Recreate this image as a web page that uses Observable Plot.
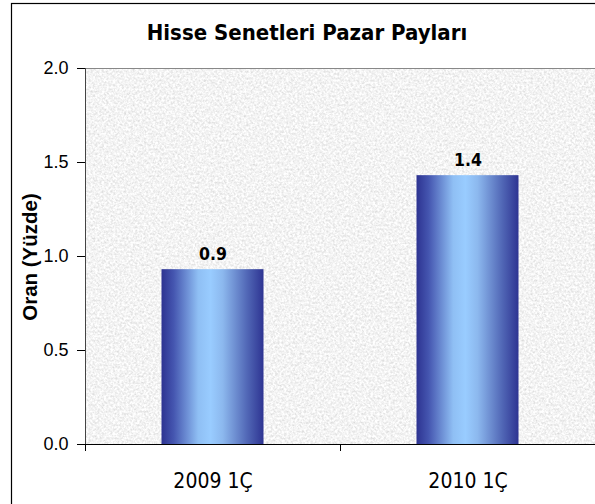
<!DOCTYPE html>
<html><head><meta charset="utf-8">
<script src="https://cdn.jsdelivr.net/npm/d3@7"></script>
<script src="https://cdn.jsdelivr.net/npm/@observablehq/plot@0.6"></script>
<style>body{margin:0;background:#fff}svg{display:block}</style>
</head><body><div id="chart"></div>
<script>
const categories = ["2009 1Ç", "2010 1Ç"];
const values = [0.93, 1.43];
const valueLabels = ["0.9", "1.4"];
const yTicks = [0, 0.5, 1.0, 1.5, 2.0];
const titleText = "Hisse Senetleri Pazar Payları";
const yLabelText = "Oran (Yüzde)";

const data = categories.map((c, i) => ({c, i, v: values[i], label: valueLabels[i]}));

function background(index, scales, values, dim) {
  const g = d3.create("svg:g");
  const defs = g.append("defs");
  const grad = defs.append("linearGradient").attr("id", "barGrad").attr("x1", 0).attr("x2", 1).attr("y1", 0).attr("y2", 0);
  [[0, "#2d3391"], [0.12, "#4556b0"], [0.36, "#8fbff4"], [0.48, "#99ccff"], [0.6, "#8cb8ee"], [0.84, "#5167b6"], [1, "#2e3492"]]
    .forEach(([o, c]) => grad.append("stop").attr("offset", o).attr("stop-color", c));
  const x0 = dim.marginLeft, y0 = dim.marginTop;
  const w = dim.width - dim.marginLeft - dim.marginRight + 20, h = dim.height - dim.marginTop - dim.marginBottom;
  const f = defs.append("filter").attr("id", "granite").attr("filterUnits", "userSpaceOnUse")
    .attr("x", x0).attr("y", y0).attr("width", w).attr("height", h);
  f.append("feTurbulence").attr("type", "fractalNoise").attr("baseFrequency", 0.45).attr("numOctaves", 4).attr("seed", 7).attr("result", "n");
  f.append("feColorMatrix").attr("in", "n").attr("type", "matrix")
    .attr("values", "0.5 0 0 0 0.65  0.5 0 0 0 0.65  0.5 0 0 0 0.65  0 0 0 0 1");
  g.append("rect").attr("x", x0).attr("y", y0).attr("width", w).attr("height", h).attr("fill", "#e6e6e6").attr("filter", "url(#granite)");
  g.append("rect").attr("x", 11.5).attr("y", 3.5).attr("width", 700).attr("height", 700).attr("fill", "none").attr("stroke", "#000").attr("stroke-width", 1.2);
  return g.node();
}

const chart = Plot.plot({
  width: 595,
  height: 504,
  marginLeft: 85,
  marginRight: 0,
  marginTop: 68,
  marginBottom: 60,
  x: {domain: [0, 2]},
  y: {domain: [0, 2]},
  marks: [
    background,
    Plot.ruleY([2], {stroke: "#888", strokeWidth: 1}),
    Plot.rectY(data, {x1: d => d.i + 0.3, x2: d => d.i + 0.7, y: "v", fill: "url(#barGrad)"}),
    Plot.ruleX([0], {stroke: "#444", strokeWidth: 1}),
    Plot.ruleY([0], {stroke: "#000", strokeWidth: 1.2}),
    Plot.axisY({ticks: yTicks, tickFormat: d3.format(".1f"), tickSize: 8, tickPadding: 9, fontSize: 18, fontFamily: "Liberation Sans, Arial, sans-serif", label: null, color: "#000"}),
    Plot.axisX({ticks: [0, 1, 2], tickFormat: () => "", tickSize: 7, label: null}),
    Plot.text(data, {x: d => d.i + 0.5, y: 0, text: "c", dy: 36.5, fontSize: 21, fontFamily: "DejaVu Sans Condensed, DejaVu Sans, sans-serif", fill: "#000"}),
    Plot.text(data, {x: d => d.i + 0.5, y: "v", text: "label", dy: -15.5, fontSize: 17.5, fontWeight: "bold", fontFamily: "DejaVu Sans Condensed, DejaVu Sans, sans-serif", fill: "#000"})
  ]
});

const svg = d3.select(chart);
svg.append("text").attr("x", 307).attr("y", 40).attr("text-anchor", "middle")
  .attr("font-family", "DejaVu Sans Condensed, DejaVu Sans, sans-serif").attr("font-weight", "bold").attr("font-size", 22)
  .attr("fill", "#000").text(titleText);
svg.append("text").attr("transform", "translate(37,257) rotate(-90)").attr("text-anchor", "middle")
  .attr("font-family", "Liberation Sans, Arial, sans-serif").attr("font-weight", "bold").attr("font-size", 20.5)
  .attr("fill", "#000").text(yLabelText);

document.getElementById("chart").appendChild(chart);
</script>
</body></html>
